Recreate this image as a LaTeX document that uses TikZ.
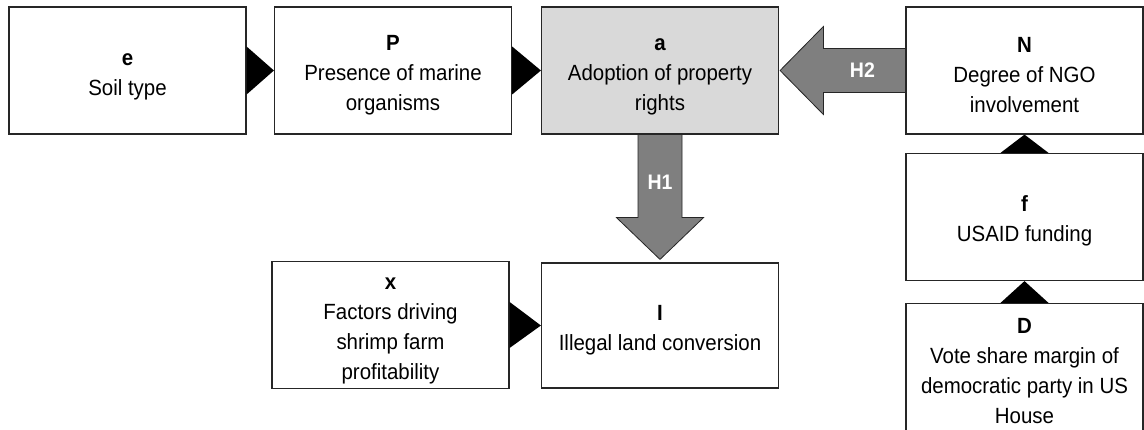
\documentclass[tikz,border=0pt]{standalone}
\usepackage{fontspec}
\setmainfont[FakeStretch=0.93]{Liberation Sans}
\usetikzlibrary{calc}
\definecolor{boxgray}{HTML}{D9D9D9}
\definecolor{arrowgray}{HTML}{7F7F7F}
\definecolor{linecol}{HTML}{262626}
\newcommand{\hdrlbl}[1]{\rule{0pt}{24pt}\textbf{#1}}
\begin{document}
\begin{tikzpicture}[x=1pt,y=-1pt,
 box/.style={draw=linecol, line width=1.2pt, fill=white, minimum width=237pt, minimum height=127pt, align=center, inner sep=0pt, font=\fontsize{22}{30}\selectfont},
 tri/.style={fill=black},
 bigarrow/.style={fill=arrowgray, draw=linecol, line width=0.8pt},
 hlabel/.style={text=white, font=\fontsize{21}{24}\selectfont\bfseries, inner sep=0pt}]
\clip (0,0) rectangle (1144,430);
\fill[white] (0,0) rectangle (1144,430);
% boxes
\node[box] (e) at (127.5,70.5) {\hdrlbl{e}\\Soil type};
\node[box] (P) at (393,70.5) {\hdrlbl{P}\\Presence of marine\\organisms};
\node[box, fill=boxgray] (a) at (660,70.5) {\hdrlbl{a}\\Adoption of property\\rights};
\node[box] (N) at (1024.5,70.5) {\hdrlbl{N}\\Degree of NGO\\involvement};
\node[box] (f) at (1024.5,217) {\hdrlbl{f}\\USAID funding};
\node[box] (D) at (1024.5,367) {\hdrlbl{D}\\Vote share margin of\\democratic party in US\\House};
\node[box] (x) at (390.5,325) {\hdrlbl{x}\\Factors driving\\shrimp farm\\profitability};
\node[box, minimum height=125pt] (I) at (660,325.5) {\hdrlbl{I}\\Illegal land conversion};
% small triangular connectors
\fill[tri] ([yshift=24pt]e.east) -- (P.west) -- ([yshift=-24pt]e.east) -- cycle;
\fill[tri] ([yshift=24pt]P.east) -- (a.west) -- ([yshift=-24pt]P.east) -- cycle;
\fill[tri] ([yshift=23pt]x.east) -- (I.west) -- ([yshift=-23pt]x.east) -- cycle;
\fill[tri] ([xshift=-24pt]f.north) -- (N.south) -- ([xshift=24pt]f.north) -- cycle;
\fill[tri] ([xshift=-24pt]D.north) -- (f.south) -- ([xshift=24pt]D.north) -- cycle;
% big arrows
\draw[bigarrow] ([xshift=-22pt]a.south) -- ([xshift=-22pt,yshift=-83pt]a.south) -- ([xshift=-43.5pt,yshift=-83pt]a.south) -- ([yshift=3pt]I.north) -- ([xshift=43.5pt,yshift=-83pt]a.south) -- ([xshift=22pt,yshift=-83pt]a.south) -- ([xshift=22pt]a.south) -- cycle;
\draw[bigarrow] ([yshift=22pt]N.west) -- ([xshift=-82pt,yshift=22pt]N.west) -- ([xshift=-82pt,yshift=44pt]N.west) -- ([xshift=1pt]a.east) -- ([xshift=-82pt,yshift=-44pt]N.west) -- ([xshift=-82pt,yshift=-22pt]N.west) -- ([yshift=-22pt]N.west) -- cycle;
\node[hlabel] (h1) at ($(a.south)+(0,48)$) {H1};
\node[hlabel] (h2) at ($(N.west)+(-43,0)$) {H2};
\end{tikzpicture}
\end{document}
